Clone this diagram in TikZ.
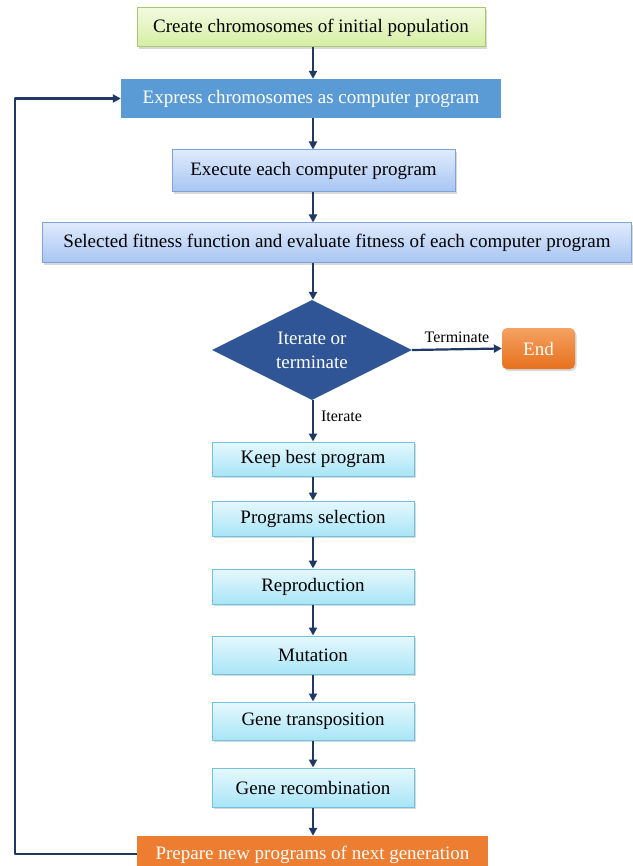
\documentclass[tikz,border=0pt]{standalone}
\usepackage{fontspec}
\setmainfont{Liberation Serif}
\usetikzlibrary{shapes.geometric,shadows,arrows.meta}
\definecolor{navy}{HTML}{203864}
\definecolor{grtop}{HTML}{F2FADF}
\definecolor{grbot}{HTML}{D5EEA3}
\definecolor{grline}{HTML}{A9C86E}
\definecolor{exblue}{HTML}{5B9BD5}
\definecolor{bltop}{HTML}{DFEAFC}
\definecolor{blbot}{HTML}{A7C5F3}
\definecolor{blline}{HTML}{7FA3D9}
\definecolor{cytop}{HTML}{E6F8FD}
\definecolor{cybot}{HTML}{A8E5F7}
\definecolor{cyline}{HTML}{6EC3DF}
\definecolor{dkblue}{HTML}{2F5597}
\definecolor{ortop}{HTML}{F5A263}
\definecolor{orbot}{HTML}{E7701C}
\definecolor{orange2}{HTML}{ED7D31}
\tikzset{
  base/.style={rectangle, inner sep=0pt, align=center, font=\fontsize{19}{23}\selectfont},
  shad/.style={drop shadow={opacity=0.25, shadow xshift=1.5pt, shadow yshift=-2pt, fill=black!60}},
  greenbox/.style={base, shad, draw=grline, line width=1pt, top color=grtop, bottom color=grbot},
  solidblue/.style={base, fill=exblue, text=white},
  bluebox/.style={base, shad, draw=blline, line width=1pt, top color=bltop, bottom color=blbot},
  cyanbox/.style={base, shad, draw=cyline, line width=1pt, top color=cytop, bottom color=cybot, minimum width=202pt},
  orangebox/.style={base, fill=orange2, text=white},
  endbox/.style={base, shad, rounded corners=5pt, top color=ortop, bottom color=orbot, text=white},
  decision/.style={diamond, aspect=2, inner sep=0pt, fill=dkblue, text=white, align=center, font=\fontsize{19}{24}\selectfont},
  arr/.style={draw=navy, line width=2.2pt, -{Triangle[length=8pt, width=8pt]}},
  lbl/.style={font=\fontsize{16}{19}\selectfont, inner sep=0pt}
}
\begin{document}
\begin{tikzpicture}[x=1pt, y=-1pt]
\useasboundingbox (0,0) rectangle (632,866);
\node[greenbox, minimum width=348pt, minimum height=39pt] (create) at (311,27.5) {Create chromosomes of initial population};
\node[solidblue, minimum width=380pt, minimum height=39pt] (express) at (311,98.5) {Express chromosomes as computer program};
\node[bluebox, minimum width=283pt, minimum height=42pt] (execute) at (313.5,171) {Execute each computer program};
\node[bluebox, minimum width=589pt, minimum height=40pt] (select) at (337,243) {Selected fitness function and evaluate fitness of each computer program};
\node[decision, minimum width=200pt, minimum height=100pt] (dec) at (312,350) {Iterate or\\terminate};
\node[endbox, minimum width=73pt, minimum height=41pt] (end) at (538.5,348.5) {End};
\node[cyanbox, minimum height=34pt] (keep) at (313,459) {Keep best program};
\node[cyanbox, minimum height=35pt] (psel) at (313,518.5) {Programs selection};
\node[cyanbox, minimum height=35pt] (repro) at (313,586.5) {Reproduction};
\node[cyanbox, minimum height=38pt] (mut) at (313,655) {Mutation};
\node[cyanbox, minimum height=38pt] (trans) at (313,721) {Gene transposition};
\node[cyanbox, minimum height=39pt] (recomb) at (313,787.5) {Gene recombination};
\node[orangebox, minimum width=351pt, minimum height=38pt] (prep) at (312.5,855) {Prepare new programs of next generation};
\coordinate (lb) at (15,854);
\coordinate (lt) at (15,98.5);

\draw[arr] (create.south -| 313,0) -- (express.north -| 313,0);
\draw[arr] (express.south -| 313,0) -- (execute.north -| 313,0);
\draw[arr] (execute.south -| 313,0) -- (select.north -| 313,0);
\draw[arr] (select.south -| 313,0) -- (dec.north -| 313,0);
\draw[arr] (dec.east) -- node[lbl, above=5pt] {Terminate} (end.west);
\draw[arr] (dec.south -| 313,0) -- node[lbl, right=7pt, pos=0.4] {Iterate} (keep.north -| 313,0);
\draw[arr] (keep) -- (psel);
\draw[arr] (psel) -- (repro);
\draw[arr] (repro) -- (mut);
\draw[arr] (mut) -- (trans);
\draw[arr] (trans) -- (recomb);
\draw[arr] (recomb) -- (prep.north -| recomb);
\draw[arr, line join=round] (prep.west |- lb) -- (lb) -- (lt) -- (express.west);
\end{tikzpicture}
\end{document}
